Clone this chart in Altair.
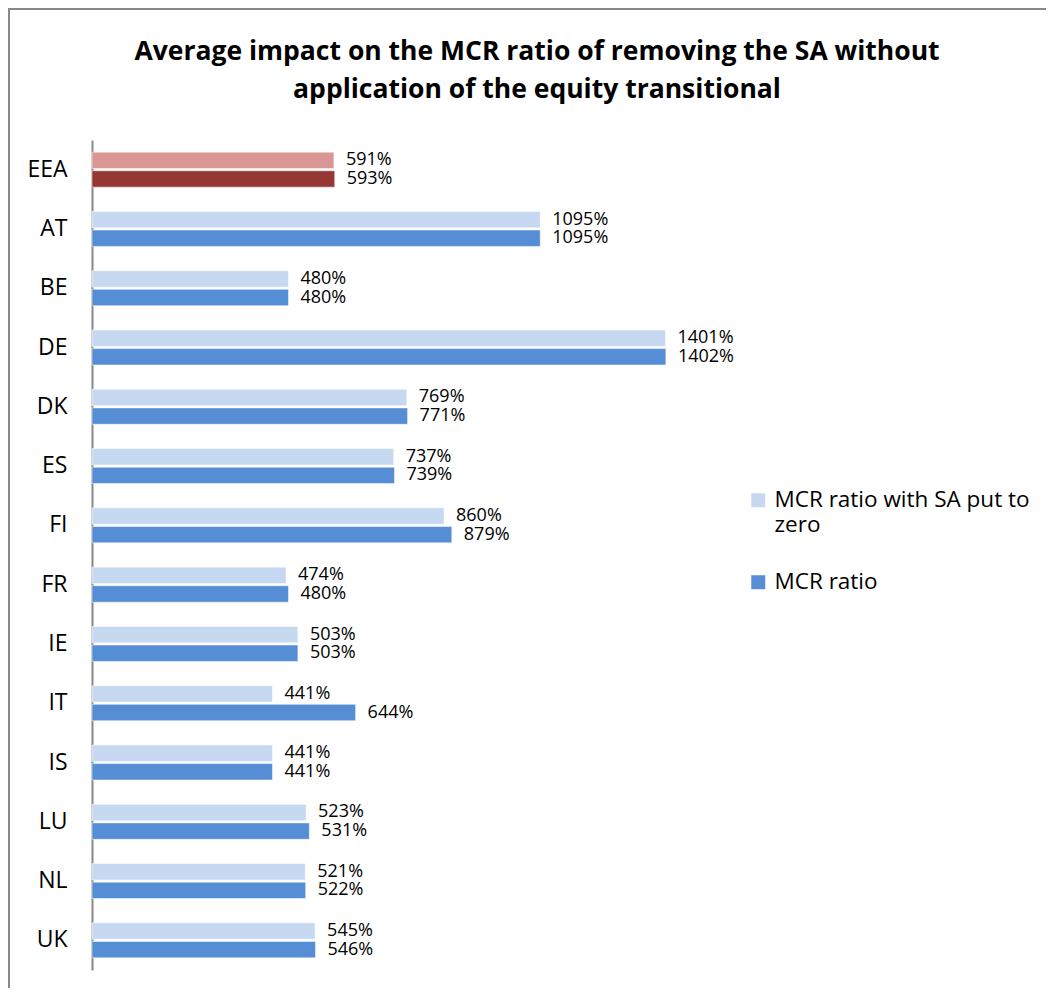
import altair as alt
import pandas as pd

countries = ["EEA", "AT", "BE", "DE", "DK", "ES", "FI", "FR", "IE", "IT", "IS", "LU", "NL", "UK"]
sa_zero = [591, 1095, 480, 1401, 769, 737, 860, 474, 503, 441, 441, 523, 521, 545]
mcr_ratio = [593, 1095, 480, 1402, 771, 739, 879, 480, 503, 644, 441, 531, 522, 546]

S1 = "MCR ratio with SA put to zero"
S2 = "MCR ratio"

rows = []
for c, a, b in zip(countries, sa_zero, mcr_ratio):
    for s, v in ((S1, a), (S2, b)):
        key = s if c != "EEA" else ("EEA " + s)
        rows.append({"country": c, "series": s, "value": v, "key": key, "label": f"{v}%"})
df = pd.DataFrame(rows)

FONT = "Open Sans"
PAD_L, PAD_T, PAD_R, PAD_B = 84, 132, 340, 18
W, H = 614, 830

y_enc = alt.Y("country:N", sort=countries,
              scale=alt.Scale(paddingInner=0.41, paddingOuter=0.205),
              axis=alt.Axis(title=None, ticks=False, labelFontSize=23, labelFont=FONT,
                            labelColor="#000", labelPadding=25, domainColor="#888",
                            domainWidth=2))
yoff = alt.YOffset("series:N", sort=[S1, S2], scale=alt.Scale(paddingInner=0.12))
x_enc = alt.X("value:Q", scale=alt.Scale(domain=[0, 1500]), axis=None)

color_domain = [S1, S2, "EEA " + S1, "EEA " + S2]
color_range = ["#C6D9F1", "#558ED5", "#D99694", "#953735"]

bars = alt.Chart(df).mark_bar(stroke="white", strokeWidth=0.5).encode(
    y=y_enc, yOffset=yoff, x=x_enc,
    color=alt.Color("key:N", scale=alt.Scale(domain=color_domain, range=color_range),
                    legend=alt.Legend(values=[S1, S2], title=None, orient="none",
                                      legendX=655, legendY=349,
                                      symbolType="square", symbolSize=196,
                                      symbolStrokeWidth=0,
                                      labelFontSize=22.5, labelFont=FONT, labelColor="#000",
                                      labelExpr="datum.label == 'MCR ratio with SA put to zero' ? ['MCR ratio with SA put to', 'zero'] : datum.label",
                                      labelLimit=400, rowPadding=34, labelOffset=5))
)

labels = alt.Chart(df).mark_text(align="left", baseline="middle", dx=12, fontSize=18,
                                 font=FONT, color="#000").encode(
    y=y_enc, yOffset=yoff, x=x_enc, text="label:N"
)

frame = alt.Chart(pd.DataFrame({"a": [0]})).mark_rect(
    fillOpacity=0, stroke="#888", strokeWidth=2
).encode(
    x=alt.value(-PAD_L + 1), y=alt.value(-PAD_T + 1),
    x2=alt.value(W + PAD_R + 20), y2=alt.value(H + PAD_B + 20)
)

chart = alt.layer(frame, bars, labels).properties(
    width=W, height=H,
    title=alt.TitleParams(
        text=["Average impact on the MCR ratio of removing the SA without",
              "application of the equity transitional"],
        fontSize=26.5, font=FONT, fontWeight="bold", anchor="middle", dx=138,
        lineHeight=38, offset=0, dy=95, color="#000"),
    autosize=alt.AutoSizeParams(type="none"),
    padding={"left": PAD_L, "top": PAD_T, "right": PAD_R, "bottom": PAD_B},
).configure(background="white").configure_view(strokeWidth=0)

chart.save("out.html", embed_options={"renderer": "svg", "actions": False})
